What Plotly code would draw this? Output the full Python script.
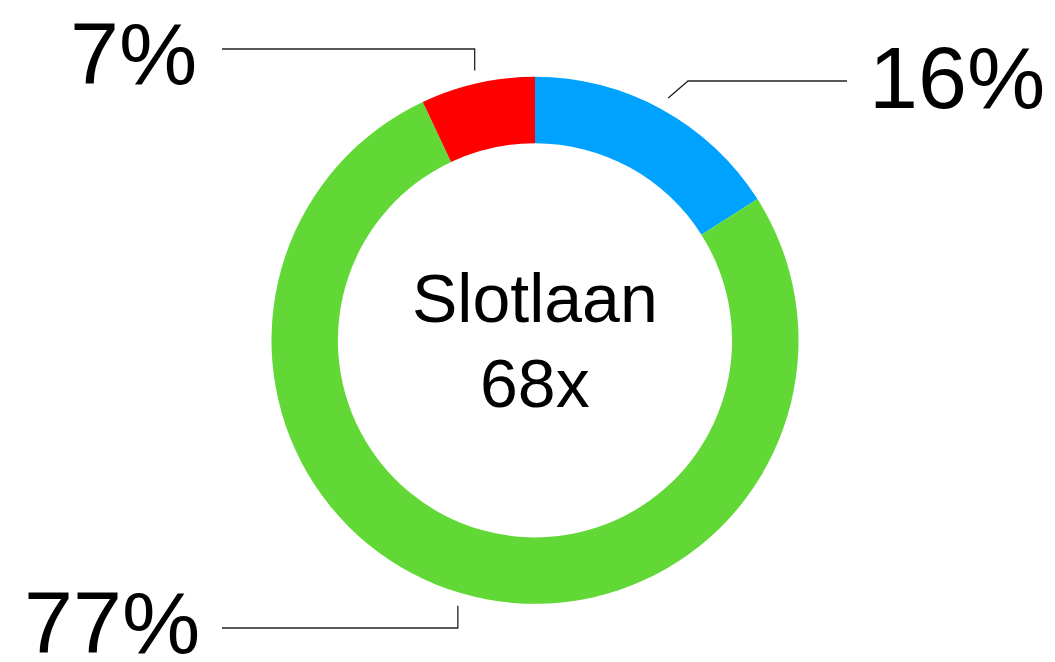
import math
import plotly.graph_objects as go

# ---- data ----
categories = ["Blauw", "Groen", "Rood"]
percentages = [16, 77, 7]
colors = ["#00A2FF", "#61D836", "#FF0000"]
center_title = "Slotlaan"
center_count = "68x"

# page body has an 8px margin, so the figure is drawn 8px in from the corner
OFF = 8
W, H = 1055 - OFF, 662 - OFF
CX, CY = 535, 340.3      # donut centre (reference px)
R_OUT = 263.5            # outer radius (px)
HOLE = 0.748
R_LEAD = R_OUT + 13      # where leader lines start

def px(x):
    return (x - OFF) / W

def py(y):
    return 1 - (y - OFF) / H

fig = go.Figure()
fig.add_trace(go.Pie(
    labels=categories,
    values=percentages,
    marker=dict(colors=colors, line=dict(width=0)),
    hole=HOLE,
    sort=False,
    direction="clockwise",
    rotation=0,
    textinfo="none",
    hoverinfo="label+percent",
    showlegend=False,
    domain=dict(x=[px(CX - R_OUT), px(CX + R_OUT)],
                y=[py(CY + R_OUT), py(CY - R_OUT)]),
))

# slice mid-angles (degrees clockwise from 12 o'clock)
total = sum(percentages)
mids = []
acc = 0
for v in percentages:
    mids.append((acc + v / 2) / total * 360)
    acc += v

def attach(angle):
    a = math.radians(angle)
    return CX + R_LEAD * math.sin(a), CY - R_LEAD * math.cos(a)

line_style = dict(color="#222222", width=1.3)
font = dict(family="Helvetica Neue, Helvetica, Liberation Sans, Arial", size=88, color="black")

# Blue (16%) – diagonal then horizontal to the right
bx, by = attach(mids[0])
fig.add_shape(type="path", xref="paper", yref="paper",
              path=f"M {px(bx)} {py(by)} L {px(688)} {py(81)} L {px(847)} {py(81)}",
              line=line_style)
fig.add_annotation(x=px(867), y=py(78), xref="paper", yref="paper",
                   text=f"{percentages[0]}%", showarrow=False,
                   xanchor="left", yanchor="middle", font=font)

# Green (77%) – vertical down then horizontal to the left
gx, gy = attach(mids[1])
fig.add_shape(type="path", xref="paper", yref="paper",
              path=f"M {px(gx)} {py(gy)} L {px(gx)} {py(628)} L {px(222)} {py(628)}",
              line=line_style)
fig.add_annotation(x=px(202), y=py(622), xref="paper", yref="paper",
                   text=f"{percentages[1]}%", showarrow=False,
                   xanchor="right", yanchor="middle", font=font)

# Red (7%) – vertical up then horizontal to the left
rx, ry = attach(mids[2])
fig.add_shape(type="path", xref="paper", yref="paper",
              path=f"M {px(rx)} {py(ry)} L {px(rx)} {py(49)} L {px(222)} {py(49)}",
              line=line_style)
fig.add_annotation(x=px(199), y=py(53), xref="paper", yref="paper",
                   text=f"{percentages[2]}%", showarrow=False,
                   xanchor="right", yanchor="middle", font=font)

# centre text
cfont = dict(family="Helvetica Neue, Helvetica, Liberation Sans, Arial", size=68, color="black")
fig.add_annotation(x=px(CX), y=py(298), xref="paper", yref="paper",
                   text=center_title, showarrow=False,
                   xanchor="center", yanchor="middle", font=cfont)
fig.add_annotation(x=px(CX), y=py(383), xref="paper", yref="paper",
                   text=center_count, showarrow=False,
                   xanchor="center", yanchor="middle", font=cfont)

fig.update_layout(
    width=W, height=H,
    margin=dict(l=0, r=0, t=0, b=0),
    paper_bgcolor="white",
    plot_bgcolor="white",
)

fig.write_html("out.html")
